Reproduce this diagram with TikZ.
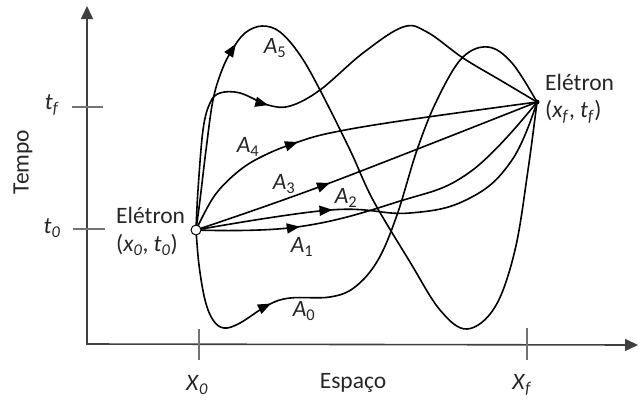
\documentclass[tikz,border=0pt]{standalone}
\usepackage{fontspec}
\setmainfont{Carlito}
\usetikzlibrary{arrows.meta, decorations.markings}

\newcommand{\ivar}[2]{\textit{#1}\textsubscript{\textit{#2}}}
\newcommand{\apath}[1]{\textit{A}\textsubscript{#1}}

\tikzset{
  axis/.style={line width=1.6pt, draw=black!75, {Triangle[length=13pt,width=12pt]}-{Triangle[length=13pt,width=12pt]}},
  tickmark/.style={line width=1.2pt, draw=black!55},
  pathline/.style={line width=1.6pt, line join=round},
  arr/.style={postaction={decorate}, decoration={markings, mark=at position #1 with {\arrow{Triangle[length=13pt,width=10pt]}}}},
  lbl/.style={font=\fontsize{23.5}{28}\selectfont, text=black!85, inner sep=1pt},
}

\begin{document}
\begin{tikzpicture}[x=1pt, y=-1pt]
\useasboundingbox (0,0) rectangle (639,400);
% axes
\coordinate (T) at (87,6);
\coordinate (O) at (87,344);
\coordinate (R) at (638,345);
\draw[axis] (T) -- (O) -- (R);
\draw[tickmark] (72,107) -- (103,107);
\draw[tickmark] (73,229) -- (105,229);
\draw[tickmark] (199,329) -- (199,360);
\draw[tickmark] (527,328) -- (527,360);
% start and end events
\coordinate (S) at (196,230);
\coordinate (E) at (537,102);
% A0
\draw[pathline, arr=160pt] plot[smooth, tension=0.6] coordinates {(S) (199,265) (205,300) (213,320) (224,328) (240,323) (268,305) (290,298) (330,297) (355,287) (378,260) (397,215) (417,150) (437,100) (462,58) (488,47) (512,63) (E)};
% A1
\draw[pathline, arr=104pt] plot[smooth, tension=0.7] coordinates {(S) (297,227) (397,202) (470,172) (E)};
% A2
\draw[pathline, arr=138pt] plot[smooth, tension=0.7] coordinates {(S) (330,210) (410,213) (470,198) (512,160) (E)};
% A3
\draw[pathline, arr=142pt] plot[smooth, tension=0.6] coordinates {(S) (327,184) (E)};
% A4
\draw[pathline, arr=140pt] plot[smooth, tension=0.6] coordinates {(S) (215,195) (240,170) (265,155) (295,143) (330,133) (400,121) (E)};
% upper wave
\draw[pathline, arr=194pt] plot[smooth, tension=0.6] coordinates {(S) (198,190) (203,130) (210,103) (220,93) (240,93) (268,105) (290,106) (320,90) (363,53) (403,27) (427,32) (463,58) (500,80) (E)};
% A5
\draw[pathline, arr=192pt] plot[smooth, tension=0.6] coordinates {(S) (200,200) (206,150) (213,100) (222,70) (232,50) (245,33) (262,26) (280,32) (300,55) (320,90) (350,150) (373,200) (410,262) (440,310) (467,329) (495,307) (515,250) (528,170) (E)};
\node[circle, draw, fill=white, line width=1pt, inner sep=0pt, minimum size=10pt] (start) at (S) {};
\node[circle, fill=black, inner sep=0pt, minimum size=5pt] (end) at (E) {};
% labels
\node[lbl, rotate=90] (tempo) at (23,162) {Tempo};
\node[lbl] (tf) at (52,105) {\ivar{t}{f}};
\node[lbl] (tz) at (52,228) {\ivar{t}{0}};
\node[lbl] (xz) at (197,385) {\ivar{X}{0}};
\node[lbl] (esp) at (353,383) {Espaço};
\node[lbl] (xfl) at (522,385) {\ivar{X}{f}};
\node[lbl, anchor=west] (elo) at (115,215) {Elétron};
\node[lbl, anchor=west] (xo) at (115,245) {(\ivar{x}{0}, \ivar{t}{0})};
\node[lbl, anchor=west] (elf) at (544,82) {Elétron};
\node[lbl, anchor=west] (xfp) at (544,112) {(\ivar{x}{f}, \ivar{t}{f})};
\node[lbl] (a5) at (275,48) {\apath{5}};
\node[lbl] (a4) at (248,147) {\apath{4}};
\node[lbl] (a3) at (284,184) {\apath{3}};
\node[lbl] (a2) at (346,198) {\apath{2}};
\node[lbl] (a1) at (302,247) {\apath{1}};
\node[lbl] (a0) at (304,311) {\apath{0}};
\end{tikzpicture}
\end{document}
